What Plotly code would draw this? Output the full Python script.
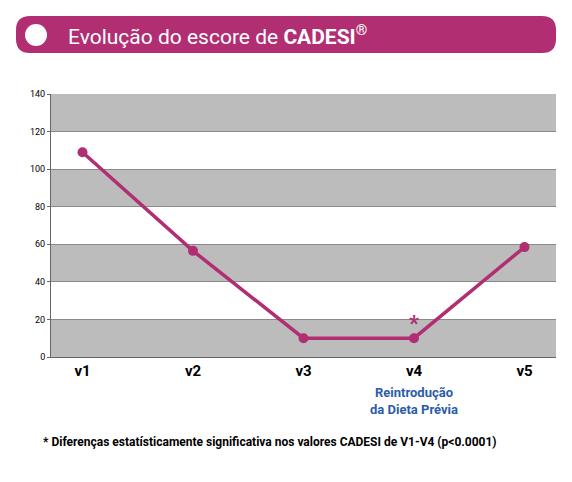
import plotly.graph_objects as go

categories = ["v1", "v2", "v3", "v4", "v5"]
cadesi = [109, 56.5, 10, 10, 58.5]
y_ticks = [0, 20, 40, 60, 80, 100, 120, 140]

OFF = 7  # page offset in the browser
W, H = 572 - 2 * OFF, 482 - 2 * OFF
L, R, T, B = 50 - OFF, 17 - OFF, 93 - OFF, 126 - OFF
PW, PH = W - L - R, H - T - B


def px(x):
    return (x - OFF - L) / PW


def py(y):
    return (H - B - (y - OFF)) / PH


def rounded(x0, y0, x1, y1, r):
    pts = [
        f"M {px(x0 + r)} {py(y0)}", f"L {px(x1 - r)} {py(y0)}",
        f"Q {px(x1)} {py(y0)} {px(x1)} {py(y0 + r)}", f"L {px(x1)} {py(y1 - r)}",
        f"Q {px(x1)} {py(y1)} {px(x1 - r)} {py(y1)}", f"L {px(x0 + r)} {py(y1)}",
        f"Q {px(x0)} {py(y1)} {px(x0)} {py(y1 - r)}", f"L {px(x0)} {py(y0 + r)}",
        f"Q {px(x0)} {py(y0)} {px(x0 + r)} {py(y0)}", "Z",
    ]
    return " ".join(pts)


magenta = "#b12e72"

fig = go.Figure()
fig.add_trace(go.Scatter(
    x=categories, y=cadesi, mode="lines+markers",
    line=dict(color=magenta, width=3.5),
    marker=dict(color=magenta, size=10),
    hoverinfo="skip",
))

shapes = []
for lo in range(0, 140, 40):
    shapes.append(dict(type="rect", xref="paper", yref="y", x0=0, x1=1,
                       y0=lo, y1=lo + 20, fillcolor="#bcbcbc", line_width=0, layer="below"))
shapes.append(dict(type="rect", xref="paper", yref="y", x0=0, x1=1,
                   y0=120, y1=140, fillcolor="#bcbcbc", line_width=0, layer="below"))
shapes.append(dict(type="path", xref="paper", yref="paper",
                   path=rounded(15, 15, 555, 52, 14), fillcolor=magenta, line_width=0))
shapes.append(dict(type="circle", xref="paper", yref="paper",
                   x0=px(24), x1=px(46), y0=py(45), y1=py(23), fillcolor="white", line_width=0))

fig.update_layout(
    width=W, height=H,
    margin=dict(l=L, r=R, t=T, b=B),
    paper_bgcolor="white", plot_bgcolor="white",
    showlegend=False,
    shapes=shapes,
    font=dict(family="Roboto", color="black"),
    xaxis=dict(showline=True, linecolor="#666", linewidth=1, ticks="",
               tickfont=dict(size=15, family="Roboto", weight="bold"),
               showgrid=False, fixedrange=True),
    yaxis=dict(range=[0, 140], tickvals=y_ticks, showline=True, linecolor="#666",
               linewidth=1, ticks="outside", ticklen=3, tickcolor="#666",
               tickfont=dict(size=9), gridcolor="#8a8a8a", gridwidth=0.6,
               zeroline=False, fixedrange=True),
    annotations=[
        dict(xref="paper", yref="paper", x=px(65), y=py(34), xanchor="left", yanchor="middle",
             showarrow=False,
             text="Evolução do escore de <b>CADESI</b><sup>®</sup>",
             font=dict(size=21, color="white")),
        dict(x="v4", y=18, text="*", showarrow=False, yanchor="middle",
             font=dict(size=22, color=magenta, weight="bold")),
        dict(x="v4", xref="x", yref="paper", y=py(382), yanchor="top", showarrow=False,
             text="<b>Reintrodução<br>da Dieta Prévia</b>",
             font=dict(size=13, color="#2a5caa")),
        dict(xref="paper", yref="paper", x=px(40), y=py(441), xanchor="left",
             yanchor="middle", showarrow=False,
             text="<b>* Diferenças estatísticamente significativa nos valores CADESI de V1-V4 (p<0.0001)</b>",
             font=dict(size=12)),
    ],
)

fig.write_html("out.html")
